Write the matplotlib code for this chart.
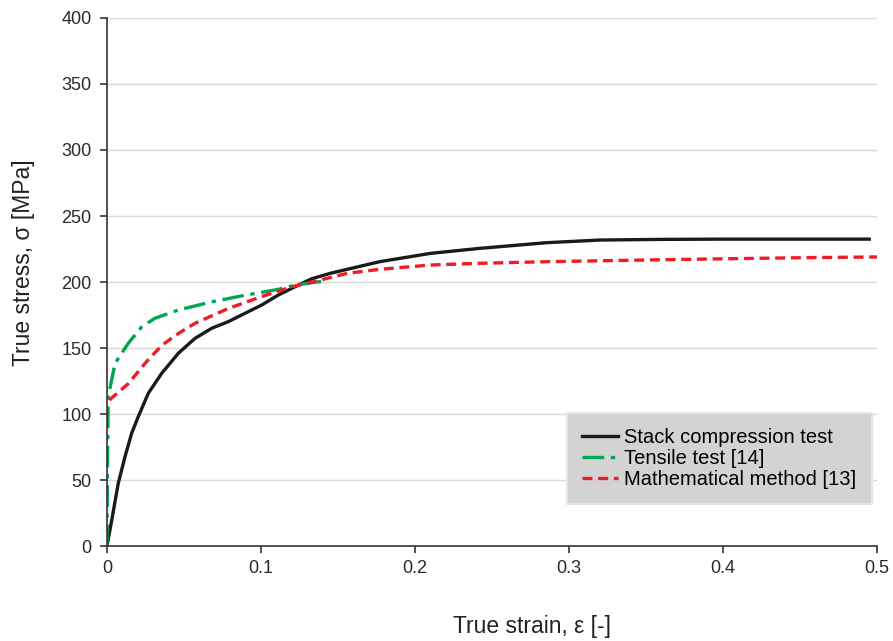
import matplotlib.pyplot as plt

# values
strain_stack = [0.0, 0.0031, 0.0073, 0.0117, 0.016, 0.0203, 0.0268, 0.0355, 0.0463,
                0.0571, 0.068, 0.0788, 0.0896, 0.1005, 0.111, 0.122, 0.133, 0.145,
                0.177, 0.21, 0.242, 0.2855, 0.32, 0.36, 0.40, 0.45, 0.495]
stress_stack = [0.0, 19.7, 47.5, 67.7, 85.4, 98, 115.7, 130.8, 146,
                157.3, 165, 170, 176.3, 182.6, 190, 196.4, 202.5, 206.6,
                215.4, 221.7, 225.5, 229.8, 231.8, 232.3, 232.5, 232.5, 232.5]

strain_tensile = [0.0, 0.0003, 0.0008, 0.0052, 0.0138, 0.0225, 0.031, 0.0463, 0.068,
                  0.0896, 0.111, 0.122, 0.136, 0.14]
stress_tensile = [0.0, 60, 113, 138.4, 153.6, 166, 172.5, 178.8, 185,
                  190, 194.4, 197.6, 200, 200.5]

strain_math = [0.0015, 0.0138, 0.0247, 0.0355, 0.0463, 0.0571, 0.0788, 0.1005, 0.12,
               0.134, 0.156, 0.177, 0.21, 0.242, 0.2855, 0.32, 0.36, 0.40, 0.45, 0.50]
stress_math = [110.6, 123, 138.4, 152, 161, 168.7, 180, 189, 196.4,
               200.2, 206.6, 209.6, 212.9, 214.2, 215.4, 216.1, 216.9, 217.6, 218.4, 219]

x_ticks = [0, 0.1, 0.2, 0.3, 0.4, 0.5]
x_tick_labels = ["0", "0.1", "0.2", "0.3", "0.4", "0.5"]
y_ticks = [0, 50, 100, 150, 200, 250, 300, 350, 400]

plt.rcParams["font.family"] = ["Liberation Sans", "DejaVu Sans"]

fig = plt.figure(figsize=(8.93, 6.41), dpi=100)
ax = fig.add_axes([0.1198, 0.148, 0.8622, 0.824])

ax.plot(strain_stack, stress_stack, color="#1a1a1a", lw=2.4,
        solid_joinstyle="round", label="Stack compression test")
ax.plot(strain_tensile, stress_tensile, color="#00a651", lw=2.4,
        dashes=(6.5, 2.0, 1.3, 2.0), label="Tensile test [14]")
ax.plot(strain_math, stress_math, color="#ee1c25", lw=2.4,
        dashes=(3.0, 1.7), label="Mathematical method [13]")

ax.set_xlim(0, 0.5)
ax.set_ylim(0, 400)
ax.set_xticks(x_ticks)
ax.set_xticklabels(x_tick_labels)
ax.set_yticks(y_ticks)
ax.yaxis.grid(True, color="#d9d9d9", lw=1)
ax.set_axisbelow(True)

for side in ["top", "right"]:
    ax.spines[side].set_visible(False)
for side in ["left", "bottom"]:
    ax.spines[side].set_color("#333333")
    ax.spines[side].set_linewidth(1.2)
ax.tick_params(axis="both", colors="#333333", labelcolor="#2a2a2a", labelsize=13,
               length=5, width=1.2, direction="out")
ax.tick_params(axis="y", pad=6)
ax.tick_params(axis="x", pad=5)

ax.set_xlabel("True strain, ε [-]", fontsize=16.5, color="#222222")
ax.set_ylabel("True stress, σ [MPa]", fontsize=16.5, color="#222222")
ax.xaxis.set_label_coords(0.552, -0.13)
ax.yaxis.set_label_coords(-0.0935, 0.536)

leg = ax.legend(loc="lower right", bbox_to_anchor=(0.993, 0.079), fontsize=14.5,
                frameon=True, fancybox=False, facecolor="#d3d3d3", edgecolor="#e6e6e6",
                framealpha=1, handlelength=1.8, handletextpad=0.3, labelspacing=0.1,
                borderpad=0.75, borderaxespad=0)
leg.get_frame().set_linewidth(1.5)

fig.savefig("out.png", dpi=100)
